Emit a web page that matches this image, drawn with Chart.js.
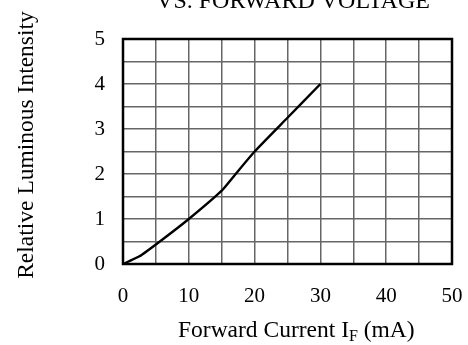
<!DOCTYPE html>
<html><head><meta charset="utf-8">
<script src="https://cdn.jsdelivr.net/npm/chart.js@4.4.1/dist/chart.umd.min.js"></script>
<style>html,body{margin:0;padding:0;background:#fff;}canvas{display:block;}</style>
</head><body>
<canvas id="c" width="468" height="345"></canvas>
<script>
// ---- data ----
const forwardCurrentMA = [0, 2.5, 5.6, 10, 15, 17, 20, 25, 30];
const relativeIntensity = [0, 0.17, 0.5, 1.0, 1.63, 1.98, 2.5, 3.25, 4.0];
const xTickLabels = ['0', '10', '20', '30', '40', '50'];
const yTickLabels = ['0', '1', '2', '3', '4', '5'];
const chartTitle = 'VS. FORWARD VOLTAGE';
const yAxisTitle = 'Relative Luminous Intensity';
const xAxisTitleMain = 'Forward Current I';
const xAxisTitleSub = 'F';
const xAxisTitleEnd = ' (mA)';

const SERIF = '"Liberation Serif", "Times New Roman", serif';

const points = forwardCurrentMA.map((x, i) => ({ x: x, y: relativeIntensity[i] }));

const decor = {
  id: 'decor',
  afterDraw(chart) {
    const ctx = chart.ctx, a = chart.chartArea;
    ctx.save();
    // frame
    ctx.strokeStyle = '#000';
    ctx.lineWidth = 2.5;
    ctx.strokeRect(a.left, a.top, a.right - a.left, a.bottom - a.top);
    ctx.fillStyle = '#000';
    // title (partly cut off at top)
    ctx.font = '24px ' + SERIF;
    ctx.textAlign = 'center';
    ctx.textBaseline = 'alphabetic';
    ctx.fillText(chartTitle, 293, 8);
    // y axis title
    ctx.save();
    ctx.translate(33, 145);
    ctx.rotate(-Math.PI / 2);
    ctx.font = '23.5px ' + SERIF;
    ctx.textAlign = 'center';
    ctx.fillText(yAxisTitle, 0, 0);
    ctx.restore();
    // x axis title with subscript
    ctx.textAlign = 'left';
    ctx.font = '23.5px ' + SERIF;
    let x = 178;
    const base = 337;
    ctx.fillText(xAxisTitleMain, x, base);
    x += ctx.measureText(xAxisTitleMain).width;
    ctx.font = '16px ' + SERIF;
    ctx.fillText(xAxisTitleSub, x, base + 4);
    x += ctx.measureText(xAxisTitleSub).width;
    ctx.font = '23.5px ' + SERIF;
    ctx.fillText(xAxisTitleEnd, x, base);
    ctx.restore();
  }
};

new Chart(document.getElementById('c'), {
  type: 'line',
  data: {
    datasets: [{
      data: points,
      borderColor: '#000',
      borderWidth: 2.4,
      pointRadius: 0,
      fill: false,
      tension: 0.15
    }]
  },
  options: {
    responsive: false,
    animation: false,
    devicePixelRatio: 1,
    layout: { padding: { top: 39, right: 16, left: 0, bottom: 0 } },
    plugins: { legend: { display: false }, tooltip: { enabled: false }, title: { display: false } },
    scales: {
      x: {
        type: 'linear', min: 0, max: 50,
        afterFit(s) { s.height = 81; s.paddingLeft = 0; s.paddingRight = 0; },
        border: { display: false },
        grid: { color: '#666', lineWidth: 1.5, drawTicks: false },
        ticks: {
          stepSize: 5, autoSkip: false, maxRotation: 0, padding: 20,
          color: '#000', font: { family: SERIF, size: 21 },
          callback: (v) => (v % 10 === 0 ? xTickLabels[v / 10] : '')
        }
      },
      y: {
        type: 'linear', min: 0, max: 5,
        afterFit(s) { s.width = 123; s.paddingTop = 0; s.paddingBottom = 0; },
        border: { display: false },
        grid: { color: '#666', lineWidth: 1.5, drawTicks: false },
        ticks: {
          stepSize: 0.5, autoSkip: false, padding: 18,
          color: '#000', font: { family: SERIF, size: 21 },
          callback: (v) => (Number.isInteger(v) ? yTickLabels[v] : '')
        }
      }
    }
  },
  plugins: [decor]
});
</script>
</body></html>
